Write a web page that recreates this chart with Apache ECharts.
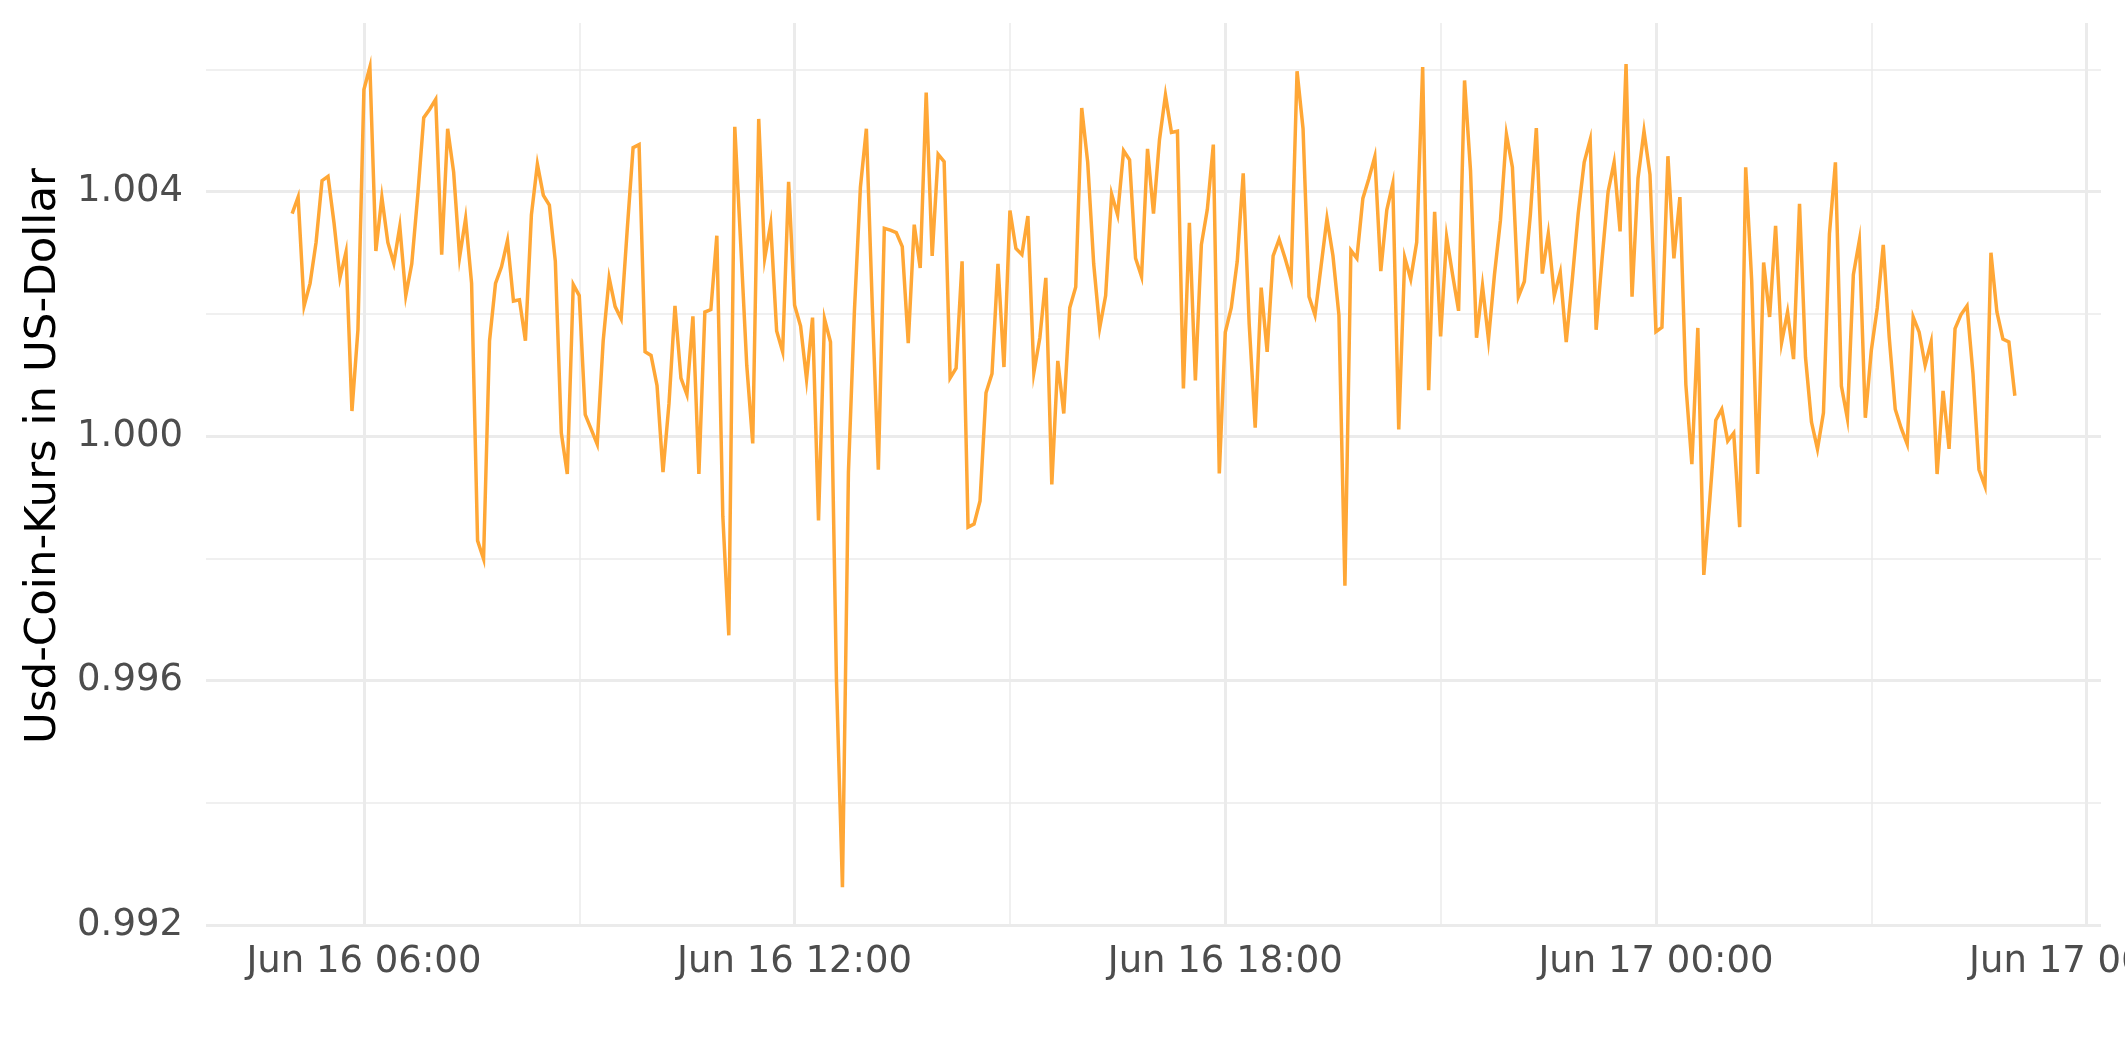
<!DOCTYPE html>
<html>
<head>
<meta charset="utf-8">
<script src="https://cdn.jsdelivr.net/npm/echarts@6/dist/echarts.min.js"></script>
<style>
html, body { margin: 0; padding: 0; background: #ffffff; }
#chart { width: 2125px; height: 1062px; }
</style>
</head>
<body>
<div id="chart"></div>
<script>
// ---- data ----
const seriesName = 'Usd-Coin-Kurs in US-Dollar';
const startHour = 5;          // first sample: Jun 16 05:00 (hours since Jun 16 00:00)
const stepMinutes = 5;        // sampling step
const prices = [
  1.00364, 1.00391, 1.00213, 1.00250, 1.00317, 1.00418, 1.00425, 1.00349, 1.00259, 1.00301,
  1.00041, 1.00174, 1.00567, 1.00604, 1.00303, 1.00391, 1.00317, 1.00283, 1.00343, 1.00230,
  1.00282, 1.00394, 1.00521, 1.00535, 1.00551, 1.00297, 1.00503, 1.00432, 1.00293, 1.00356,
  1.00250, 0.99829, 0.99799, 1.00156, 1.00250, 1.00277, 1.00320, 1.00221, 1.00223, 1.00156,
  1.00362, 1.00445, 1.00394, 1.00378, 1.00286, 1.00005, 0.99938, 1.00248, 1.00230, 1.00035,
  1.00011, 0.99987, 1.00156, 1.00259, 1.00212, 1.00192, 1.00335, 1.00472, 1.00477, 1.00138,
  1.00132, 1.00083, 0.99941, 1.00053, 1.00213, 1.00095, 1.00068, 1.00196, 0.99938, 1.00203,
  1.00207, 1.00328, 0.99869, 0.99674, 1.00506, 1.00313, 1.00116, 0.99988, 1.00519, 1.00291,
  1.00347, 1.00172, 1.00138, 1.00416, 1.00214, 1.00180, 1.00093, 1.00194, 0.99862, 1.00192,
  1.00154, 0.99600, 0.99262, 0.99941, 1.00205, 1.00407, 1.00503, 1.00210, 0.99945, 1.00340,
  1.00337, 1.00333, 1.00310, 1.00152, 1.00346, 1.00275, 1.00562, 1.00295, 1.00461, 1.00449,
  1.00095, 1.00111, 1.00286, 0.99851, 0.99856, 0.99894, 1.00071, 1.00102, 1.00282, 1.00113,
  1.00369, 1.00307, 1.00297, 1.00360, 1.00104, 1.00161, 1.00259, 0.99921, 1.00123, 1.00037,
  1.00210, 1.00244, 1.00537, 1.00448, 1.00282, 1.00177, 1.00230, 1.00396, 1.00362, 1.00467,
  1.00452, 1.00291, 1.00261, 1.00470, 1.00364, 1.00485, 1.00558, 1.00497, 1.00499, 1.00078,
  1.00349, 1.00091, 1.00313, 1.00371, 1.00477, 0.99939, 1.00170, 1.00210, 1.00286, 1.00430,
  1.00183, 1.00014, 1.00243, 1.00138, 1.00295, 1.00322, 1.00291, 1.00257, 1.00597, 1.00503,
  1.00228, 1.00198, 1.00277, 1.00356, 1.00295, 1.00198, 0.99755, 1.00304, 1.00291, 1.00389,
  1.00421, 1.00457, 1.00270, 1.00370, 1.00413, 1.00011, 1.00292, 1.00257, 1.00317, 1.00604,
  1.00075, 1.00367, 1.00163, 1.00326, 1.00264, 1.00205, 1.00582, 1.00434, 1.00161, 1.00246,
  1.00158, 1.00264, 1.00353, 1.00494, 1.00440, 1.00228, 1.00253, 1.00362, 1.00504, 1.00266,
  1.00331, 1.00230, 1.00268, 1.00154, 1.00255, 1.00364, 1.00448, 1.00485, 1.00174, 1.00291,
  1.00400, 1.00448, 1.00335, 1.00609, 1.00228, 1.00422, 1.00499, 1.00428, 1.00171, 1.00178,
  1.00458, 1.00291, 1.00391, 1.00084, 0.99954, 1.00177, 0.99773, 0.99896, 1.00026, 1.00044,
  0.99992, 1.00005, 0.99851, 1.00440, 1.00255, 0.99938, 1.00284, 1.00195, 1.00344, 1.00153,
  1.00203, 1.00126, 1.00380, 1.00129, 1.00023, 0.99979, 1.00038, 1.00331, 1.00448, 1.00082,
  1.00029, 1.00264, 1.00320, 1.00030, 1.00140, 1.00210, 1.00313, 1.00161, 1.00044, 1.00013,
  0.99987, 1.00195, 1.00170, 1.00116, 1.00154, 0.99938, 1.00074, 0.99979, 1.00176, 1.00199,
  1.00213, 1.00102, 0.99945, 0.99918, 1.00300, 1.00203, 1.00159, 1.00154, 1.00066
];
const yTicks = [0.992, 0.996, 1.000, 1.004];
const xMajorHours = 6;      // labelled gridlines every 6 h (06:00, 12:00, ...)
const xMinorHours = 3;      // thin gridlines in between
const monthName = 'Jun';
const firstDay = 16;

// ---- build ----
const hours = prices.map((p, i) => startHour + i * stepMinutes / 60);
const data = prices.map((p, i) => [hours[i], p]);
const hFirst = hours[0], hLast = hours[hours.length - 1];
const hPad = (hLast - hFirst) * 0.05;
const vMin = Math.min(...prices), vMax = Math.max(...prices);
const vPad = (vMax - vMin) * 0.05;

// x scale in hours; fine step so that min is a multiple of it
const xStep = 0.2;
const xMin = Math.round((hFirst - hPad) / xStep) * xStep;
const xMax = Math.round((hLast + hPad) / xStep) * xStep;

function pad2(n) { return (n < 10 ? '0' : '') + n; }
function isMultiple(v, m) { const r = v / m; return Math.abs(r - Math.round(r)) < 1e-6; }
function fmtHour(v) {
  if (!isMultiple(v, xMajorHours)) return '';
  const h = Math.round(v);
  const day = firstDay + Math.floor(h / 24);
  return monthName + ' ' + day + ' ' + pad2(h % 24) + ':00';
}
// colour cycles over the fine ticks: only the 6 h / 3 h positions get a visible line
const period = Math.round(xMajorHours / xStep);
function cycleColors(offsetHours, color) {
  const arr = [];
  for (let k = 0; k < period; k++) {
    const v = xMin + k * xStep;
    const rel = ((v - offsetHours) / xMajorHours);
    arr.push(Math.abs(rel - Math.round(rel)) < 1e-6 ? color : 'rgba(0,0,0,0)');
  }
  return arr;
}

const gridColor = '#EBEBEB';
const font = 'DejaVu Sans';
const chart = echarts.init(document.getElementById('chart'), null, { renderer: 'canvas' });
chart.setOption({
  backgroundColor: '#ffffff',
  animation: false,
  grid: { left: 206, right: 24, top: 23, bottom: 137, containLabel: false, outerBoundsMode: 'none' },
  xAxis: [{
    type: 'value',
    min: xMin, max: xMax, interval: xStep,
    position: 'bottom',
    axisLine: { show: false },
    axisTick: { show: false },
    axisLabel: {
      formatter: fmtHour,
      fontFamily: font, fontSize: 37, color: '#4D4D4D', margin: 19,
      hideOverlap: false, showMinLabel: true, showMaxLabel: true
    },
    splitLine: { show: true, lineStyle: { color: cycleColors(0, gridColor), width: 3 } }
  }, {
    type: 'value',
    min: xMin, max: xMax, interval: xStep,
    position: 'top',
    axisLine: { show: false },
    axisTick: { show: false },
    axisLabel: { show: false },
    splitLine: { show: true, lineStyle: { color: cycleColors(xMinorHours, gridColor), width: 1.5 } }
  }],
  yAxis: {
    type: 'value',
    min: yTicks[0],
    max: +(vMax + vPad).toFixed(5),
    interval: yTicks[1] - yTicks[0],
    name: seriesName,
    nameLocation: 'middle',
    nameGap: 138,
    nameTextStyle: { fontFamily: font, fontSize: 43.5, color: '#000000', padding: [0, 0, 0, 36] },
    axisLine: { show: false },
    axisTick: { show: false },
    axisLabel: {
      formatter: v => v.toFixed(3),
      fontFamily: font, fontSize: 37, color: '#4D4D4D', margin: 23,
      showMaxLabel: false
    },
    splitLine: { show: true, showMaxLine: false, lineStyle: { color: gridColor, width: 3 } },
    minorTick: { show: false, splitNumber: 2 },
    minorSplitLine: { show: true, lineStyle: { color: gridColor, width: 1.5 } }
  },
  series: [{
    type: 'line',
    name: seriesName,
    xAxisIndex: 0,
    data: data,
    showSymbol: false,
    symbol: 'none',
    lineStyle: { color: '#FFA736', width: 3.5, join: 'miter' },
    emphasis: { disabled: true }
  }]
});
</script>
</body>
</html>
